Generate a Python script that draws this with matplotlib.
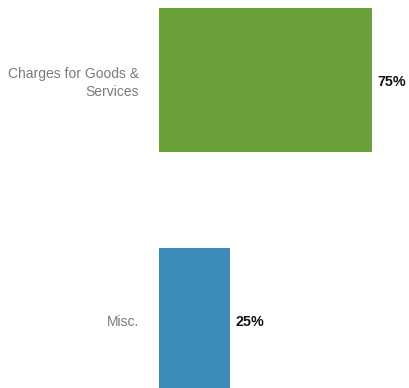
import numpy as np
import matplotlib
matplotlib.use("Agg")
import matplotlib.pyplot as plt

categories = ["Misc.", "Charges for Goods &\nServices"]
values = [25, 75]
colors = ["#3b8ab7", "#6a9f3a"]

plt.rcParams['font.family'] = ['Liberation Sans', 'DejaVu Sans']

fig = plt.figure(figsize=(4.09, 3.88), dpi=100)
ax = fig.add_axes([159 / 409, 0, 250 / 409, 1])

y = np.arange(len(categories))
ax.barh(y, values, height=0.6, color=colors)

# value labels at bar ends
for yi, v in zip(y, values):
    ax.text(v + 2, yi - 0.01, f"{v}%", va="center", ha="left",
            fontsize=10.3, fontweight="bold", color="#111111")

ax.set_yticks(y)
ax.set_yticklabels(categories, fontsize=10, color="#7a7a7a",
                   multialignment="right", linespacing=1.3)
ax.tick_params(axis="y", length=0, pad=14.4)
ax.set_xticks([])
ax.set_xlim(0, 88)
ax.set_ylim(-0.283, 1.333)
for s in ax.spines.values():
    s.set_visible(False)

fig.savefig("out.png", dpi=100)
